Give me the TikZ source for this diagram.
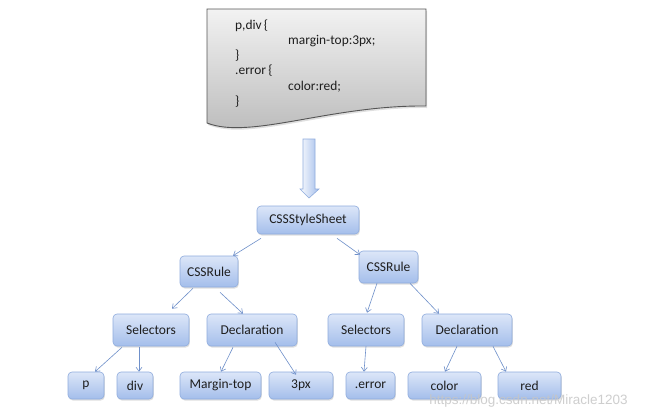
\documentclass[tikz,border=0pt]{standalone}
\usepackage{fontspec}
\setmainfont{Carlito}
\newfontfamily\wmfont{Liberation Sans}
\usetikzlibrary{calc,shadows,arrows.meta}
\definecolor{boxtop}{HTML}{DCE6F8}
\definecolor{boxbot}{HTML}{A4BEEB}
\definecolor{boxline}{HTML}{8FACDD}
\definecolor{edgecol}{HTML}{6F90CA}
\definecolor{doctop}{HTML}{F2F2F2}
\definecolor{docbot}{HTML}{B9B9B9}
\definecolor{docline}{HTML}{555555}
\definecolor{txt}{HTML}{1E1E1E}
\tikzset{
  treebox/.style={rounded corners=4pt, draw=boxline, line width=0.6pt,
    top color=boxtop, bottom color=boxbot, inner sep=0pt,
    text=txt, font=\fontsize{13.5}{15}\selectfont,
    drop shadow={opacity=0.25, shadow xshift=0.8pt, shadow yshift=-1.5pt}},
  edge/.style={draw=edgecol, line width=0.6pt, -{Straight Barb[length=4pt,width=6pt]}},
  codeline/.style={anchor=base west, inner sep=0pt, text=txt, font=\fontsize{13.4}{15}\selectfont},
}
\begin{document}
\begin{tikzpicture}[x=1pt,y=-1pt]
\useasboundingbox[fill=white] (0,0) rectangle (655,418);
% document shape
\path[draw=docline, line width=0.9pt, top color=doctop, bottom color=docbot,
  drop shadow={opacity=0.25, shadow xshift=1pt, shadow yshift=-2pt}]
  (207,9) -- (426,9) -- (426,106) .. controls (330,105) and (250,140) .. (207,123) -- cycle;
\node[codeline] (l1) at (235,29.5) {p,div\,\{};
\node[codeline] (l2) at (288,44.5) {margin-top:3px;};
\node[codeline] (l3) at (235,59.5) {\}};
\node[codeline] (l4) at (235,74.5) {.error\,\{};
\node[codeline] (l5) at (288,90) {color:red;};
\node[codeline] (l6) at (235,105) {\}};
% block arrow
\coordinate (atop) at (309,139);
\coordinate (atip) at (309,198);
\path[draw=boxline, line width=0.6pt, left color=white!85!boxtop, right color=boxbot]
  ($(atop)+(-6,0)$) -- ($(atop)+(6,0)$) -- ($(atip)+(6,-9)$) -- ($(atip)+(10,-9)$)
  -- (atip) -- ($(atip)+(-9,-9)$) -- ($(atip)+(-6,-9)$) -- cycle;
% tree nodes
\node[treebox, minimum width=102pt, minimum height=28pt] (css) at (308,220) {CSSStyleSheet};
\node[treebox, minimum width=58pt, minimum height=31pt] (ruleL) at (209,271.5) {CSSRule};
\node[treebox, minimum width=59pt, minimum height=32pt] (ruleR) at (388.5,267) {CSSRule};
\node[treebox, minimum width=76pt, minimum height=32pt] (selL) at (151,330) {Selectors};
\node[treebox, minimum width=90pt, minimum height=32pt] (decL) at (252,330) {Declaration};
\node[treebox, minimum width=76pt, minimum height=32pt] (selR) at (366,330) {Selectors};
\node[treebox, minimum width=90pt, minimum height=32pt] (decR) at (467,330) {Declaration};
\node[treebox, minimum width=36pt, minimum height=27pt] (p) at (86,385.5) {p};
\node[treebox, minimum width=36pt, minimum height=27pt] (div) at (135,385.5) {div};
\node[treebox, minimum width=81pt, minimum height=27pt] (mt) at (220.5,385.5) {Margin-top};
\node[treebox, minimum width=64pt, minimum height=27pt] (px) at (301,385.5) {3px};
\node[treebox, minimum width=49pt, minimum height=27pt] (err) at (370.5,385.5) {.error};
\node[treebox, minimum width=73pt, minimum height=27pt] (col) at (444.5,385.5) {color};
\node[treebox, minimum width=63pt, minimum height=27pt] (red) at (529.5,385.5) {red};
% edges
\draw[edge] ($(css.south)+(-47,4)$) -- ($(ruleL.north)+(24,0)$);
\draw[edge] ($(css.south)+(29,4)$) -- ($(ruleR.north)+(-28.5,4)$);
\draw[edge] ($(ruleL.south)+(-16,1)$) -- ($(selL.north)+(21,-5)$);
\draw[edge] ($(ruleL.south)+(11,5)$) -- ($(decL.north)+(-9,0)$);
\draw[edge] ($(ruleR.south)+(-11.5,0)$) -- ($(selR.north)+(1,-1)$);
\draw[edge] ($(ruleR.south)+(21.5,0)$) -- ($(decR.north)+(-28,0)$);
\draw[edge] ($(selL.south)+(-29,1)$) -- ($(p.north)+(9,0)$);
\draw[edge] ($(selL.south)+(-12,1)$) -- ($(div.north)+(4,0)$);
\draw[edge] ($(decL.south)+(-19,1)$) -- ($(mt.north)+(0.5,0)$);
\draw[edge] ($(decL.south)+(23,-4)$) -- ($(px.north)+(-5,3)$);
\draw[edge] ($(selR.south)+(0,0)$) -- ($(err.north)+(-6.5,0)$);
\draw[edge] ($(decR.south)+(-10,0)$) -- ($(col.north)+(0.5,0)$);
\draw[edge] ($(decR.south)+(26,0)$) -- ($(red.north)+(-23.5,0)$);
% watermark
\node[text=gray!45, opacity=0.85, font=\wmfont\fontsize{13.5}{15}\selectfont, inner sep=0pt] (wm) at (528.5,401) {https://blog.csdn.net/Miracle1203};
\end{tikzpicture}
\end{document}
